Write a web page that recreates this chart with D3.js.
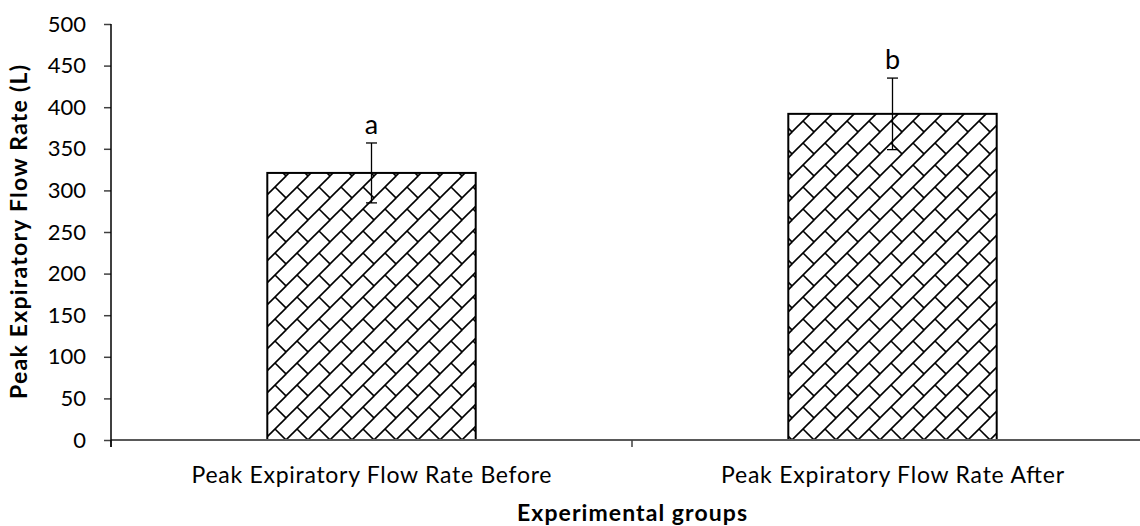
<!DOCTYPE html>
<html>
<head>
<meta charset="utf-8">
<script src="https://cdn.jsdelivr.net/npm/d3@7"></script>
<style>
  html, body { margin: 0; padding: 0; background: #fff; }
  svg { display: block; font-family: Lato, "Open Sans", "DejaVu Sans", sans-serif; }
</style>
</head>
<body>
<svg id="chart" width="1140" height="526"></svg>
<script>
// ---- data ----
const categories = ["Peak Expiratory Flow Rate Before", "Peak Expiratory Flow Rate After"];
const means = [321, 392];
const errors = [36, 43];
const letters = ["a", "b"];
const yTicks = [0, 50, 100, 150, 200, 250, 300, 350, 400, 450, 500];
const yTitle = "Peak Expiratory Flow Rate (L)";
const xTitle = "Experimental groups";

// ---- layout ----
const W = 1140, H = 526;
const plot = { left: 111, right: 1153, top: 24, bottom: 440 };
const catLabelWidths = [360, 343];

const svg = d3.select("#chart");

const x = d3.scaleBand().domain(categories)
  .range([plot.left, plot.right]).paddingInner(0.6).paddingOuter(0.3);
const y = d3.scaleLinear().domain([0, 500]).range([plot.bottom, plot.top]);

// pattern: diagonal brick
const defs = svg.append("defs");
const P = 22;
const pat = defs.append("pattern").attr("id", "brick")
  .attr("patternUnits", "userSpaceOnUse").attr("width", P).attr("height", P)
  .attr("x", 0).attr("y", 0);
pat.append("rect").attr("width", P).attr("height", P).attr("fill", "#fff");
const pl = [
  [0, P, P, 0], [-P / 2, P / 2, P / 2, -P / 2], [P / 2, P * 1.5, P * 1.5, P / 2],
  [P / 2, P / 2, P, P], [-P / 2, -P / 2, 0, 0], [P / 2, -P / 2, P, 0], [-P / 2, P / 2, 0, P]
];
pat.selectAll("line").data(pl).join("line")
  .attr("x1", d => d[0]).attr("y1", d => d[1]).attr("x2", d => d[2]).attr("y2", d => d[3])
  .attr("stroke", "#000").attr("stroke-width", 1.6);

// y axis
const yAxis = d3.axisLeft(y).tickValues(yTicks).tickSize(7).tickPadding(18);
const gy = svg.append("g").attr("transform", `translate(${plot.left},0)`).call(yAxis);
gy.select(".domain").remove();
gy.selectAll(".tick line").attr("stroke", "#404040").attr("stroke-width", 1.5);
gy.selectAll(".tick text").attr("font-size", 22).attr("fill", "#000")
  .attr("font-family", "Lato, 'Open Sans', sans-serif");

// bars
svg.append("g").selectAll("rect").data(categories).join("rect")
  .attr("x", d => x(d)).attr("width", x.bandwidth())
  .attr("y", (d, i) => y(means[i])).attr("height", (d, i) => y(0) - y(means[i]))
  .attr("fill", "url(#brick)").attr("stroke", "#000").attr("stroke-width", 2);

// x axis line & ticks
svg.append("line").attr("x1", plot.left).attr("x2", plot.right)
  .attr("y1", y(0)).attr("y2", y(0)).attr("stroke", "#595959").attr("stroke-width", 2);
const bounds = [plot.left, plot.left + x.step(), plot.left + 2 * x.step()];
svg.append("g").selectAll("line").data(bounds).join("line")
  .attr("x1", d => d).attr("x2", d => d).attr("y1", y(0)).attr("y2", y(0) + 7)
  .attr("stroke", "#404040").attr("stroke-width", 1.5);
// y axis line
svg.append("line").attr("x1", plot.left).attr("x2", plot.left)
  .attr("y1", plot.top).attr("y2", y(0) + 7).attr("stroke", "#000").attr("stroke-width", 1.5);

// error bars
const eb = svg.append("g").attr("stroke", "#000").attr("stroke-width", 1.3);
categories.forEach((c, i) => {
  const cx = x(c) + x.bandwidth() / 2;
  const y1 = y(means[i] + errors[i]), y2 = y(means[i] - errors[i]);
  eb.append("line").attr("x1", cx).attr("x2", cx).attr("y1", y1).attr("y2", y2);
  eb.append("line").attr("x1", cx - 5.5).attr("x2", cx + 5.5).attr("y1", y1).attr("y2", y1);
  eb.append("line").attr("x1", cx - 5.5).attr("x2", cx + 5.5).attr("y1", y2).attr("y2", y2);
});

// letters
svg.append("g").selectAll("text").data(categories).join("text")
  .attr("x", d => x(d) + x.bandwidth() / 2)
  .attr("y", (d, i) => y(means[i] + errors[i]) - 9)
  .attr("text-anchor", "middle").attr("font-size", 27).text((d, i) => letters[i]);

// category labels
svg.append("g").selectAll("text").data(categories).join("text")
  .attr("x", d => x(d) + x.bandwidth() / 2).attr("y", 483)
  .attr("text-anchor", "middle").attr("font-size", 23)
  .attr("textLength", (d, i) => catLabelWidths[i]).attr("lengthAdjust", "spacing")
  .text(d => d);

// axis titles
svg.append("text").attr("x", (plot.left + plot.right) / 2).attr("y", 521)
  .attr("text-anchor", "middle").attr("font-size", 23).attr("font-weight", "bold")
  .attr("textLength", 230).attr("lengthAdjust", "spacing").text(xTitle);
svg.append("text").attr("transform", `translate(27,${(plot.top + plot.bottom) / 2}) rotate(-90)`)
  .attr("text-anchor", "middle").attr("font-size", 23).attr("font-weight", "bold")
  .attr("textLength", 334).attr("lengthAdjust", "spacing").text(yTitle);
</script>
</body>
</html>
